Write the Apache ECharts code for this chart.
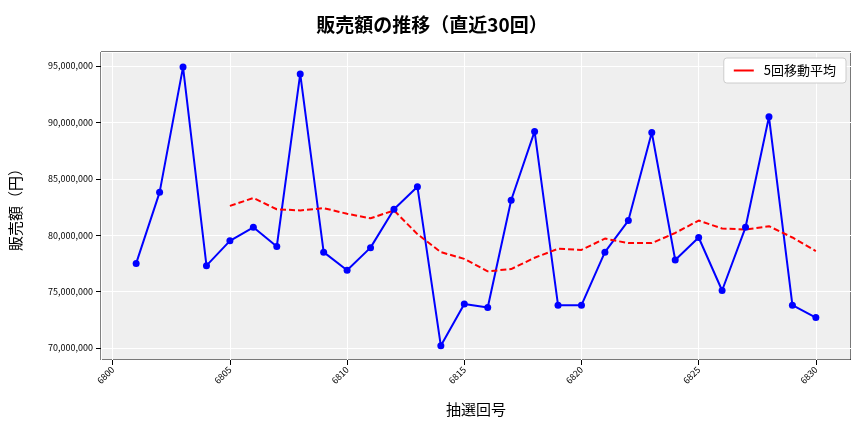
<!DOCTYPE html>
<html><head><meta charset="utf-8">
<script src="https://cdn.jsdelivr.net/npm/echarts@6/dist/echarts.min.js"></script>
<style>html,body{margin:0;background:#fff}#chart{width:864px;height:432px}</style>
</head><body><div id="chart"></div>
<script>
// 抽選回号と販売額
const draws = [];
for (let d = 6801; d <= 6830; d++) draws.push(d);
const sales = [77.5, 83.8, 94.9, 77.3, 79.5, 80.7, 79.0, 94.3, 78.5, 76.9,
  78.9, 82.3, 84.3, 70.2, 73.9, 73.6, 83.1, 89.2, 73.8, 73.8,
  78.5, 81.3, 89.1, 77.8, 79.8, 75.1, 80.7, 90.5, 73.8, 72.7].map(v => v * 1e6);
// 5回移動平均（6805から）
const maDraws = draws.slice(4);
const ma5 = [82.6, 83.3, 82.3, 82.2, 82.4, 81.9, 81.5, 82.2, 80.1, 78.5,
  77.9, 76.8, 77.0, 78.0, 78.8, 78.7, 79.7, 79.3, 79.3, 80.2,
  81.3, 80.6, 80.5, 80.8, 79.8, 78.6].map(v => v * 1e6);

const font = '"Noto Sans CJK JP", sans-serif';
const chart = echarts.init(document.getElementById('chart'));
chart.setOption({
  animation: false,
  textStyle: { fontFamily: font },
  title: { text: '販売額の推移（直近30回）', left: 'center', top: 10,
    textStyle: { fontSize: 19, fontWeight: 'bold', color: '#000', fontFamily: font } },
  legend: { right: 18, top: 58, backgroundColor: '#fff', borderColor: '#ccc', borderWidth: 1,
    borderRadius: 3, padding: [6, 10], itemWidth: 30, itemHeight: 2,
    textStyle: { fontSize: 13, color: '#000' }, data: [{ name: '5回移動平均', icon: 'path://M0,0H10V1H0Z' }] },
  grid: { left: 100, right: 13, top: 52, bottom: 72, show: true,
    backgroundColor: '#efefef', borderColor: '#000', borderWidth: 1 },
  xAxis: { type: 'value', min: 6799.5, max: 6831.5, splitNumber: 6,
    name: '抽選回号', nameLocation: 'middle', nameGap: 42,
    nameTextStyle: { fontSize: 15, color: '#000' },
    axisLine: { show: false }, axisTick: { show: true, lineStyle: { color: '#000' } },
    axisLabel: { rotate: 45, fontSize: 9, color: '#000', showMinLabel: false, showMaxLabel: false,
      formatter: v => String(v) },
    splitLine: { lineStyle: { color: '#fff', width: 1 } } },
  yAxis: { type: 'value', min: 68.94e6, max: 96.24e6, splitNumber: 5,
    name: '販売額（円）', nameLocation: 'middle', nameGap: 78,
    nameTextStyle: { fontSize: 15, color: '#000' },
    axisLine: { show: false }, axisTick: { show: true, lineStyle: { color: '#000' } },
    axisLabel: { fontSize: 9, color: '#000', showMinLabel: false, showMaxLabel: false,
      formatter: v => Math.round(v).toLocaleString('en-US') },
    splitLine: { lineStyle: { color: '#fff', width: 1 } } },
  series: [
    { name: '販売額', type: 'line', data: draws.map((d, i) => [d, sales[i]]),
      symbol: 'circle', symbolSize: 7, itemStyle: { color: '#0000ff' },
      lineStyle: { color: '#0000ff', width: 2 } },
    { name: '5回移動平均', type: 'line', data: maDraws.map((d, i) => [d, ma5[i]]),
      symbol: 'none', itemStyle: { color: '#ff0000' },
      lineStyle: { color: '#ff0000', width: 2, type: [6, 3] } }
  ]
});
</script></body></html>
